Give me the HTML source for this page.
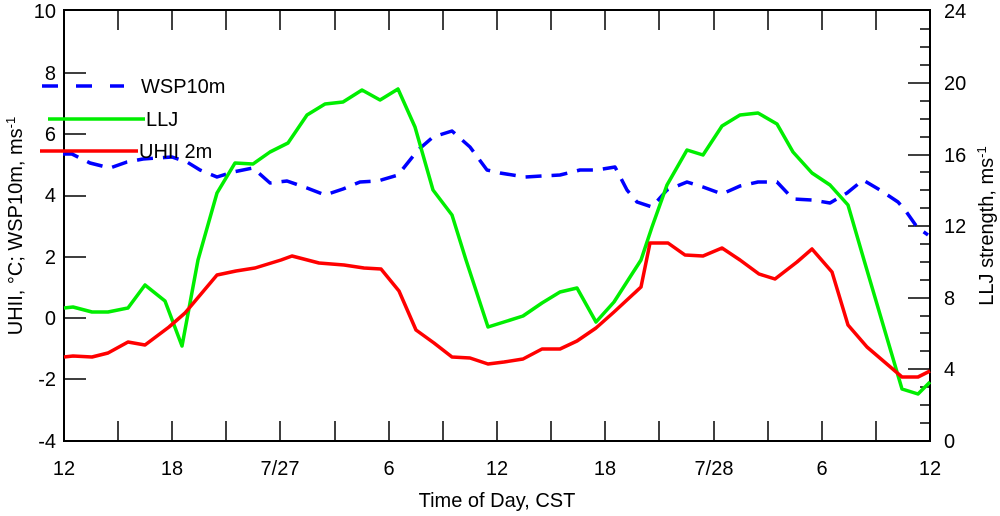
<!DOCTYPE html>
<html><head><meta charset="utf-8"><style>body{margin:0;background:#fff}svg{display:block}text{font-family:"Liberation Sans",sans-serif;font-size:20px;fill:#000}</style></head><body>
<svg width="1000" height="516" viewBox="0 0 1000 516">
<g stroke="#000" stroke-width="1.5" fill="none">
<rect x="64" y="10" width="866" height="431" stroke-width="2"/>
<path d="M118,441v-20M172,441v-20M226,441v-20M280,441v-20M335,441v-20M389,441v-20M443,441v-20M497,441v-20M551,441v-20M605,441v-20M659,441v-20M714,441v-20M768,441v-20M822,441v-20M876,441v-20
M118,10v20M172,10v20M226,10v20M280,10v20M335,10v20M389,10v20M443,10v20M497,10v20M551,10v20M605,10v20M659,10v20M714,10v20M768,10v20M822,10v20M876,10v20
M64,379h22M64,318h22M64,257h22M64,196h22M64,134h22M64,73h22"/>
<path d="M930,369h-22M930,298h-22M930,226h-22M930,155h-22M930,83h-22
M930,423h-10M930,405h-10M930,387h-10M930,351h-10M930,333h-10M930,316h-10M930,280h-10M930,262h-10M930,244h-10M930,208h-10M930,190h-10M930,172h-10M930,137h-10M930,119h-10M930,101h-10M930,65h-10M930,47h-10M930,29h-10"/>
</g>
<g text-anchor="end">
<text x="56" y="18">10</text><text x="56" y="80">8</text><text x="56" y="141">6</text><text x="56" y="202">4</text><text x="56" y="264">2</text><text x="56" y="325">0</text><text x="56" y="386">-2</text><text x="56" y="448">-4</text></g>
<g text-anchor="start">
<text x="944" y="18">24</text><text x="944" y="90">20</text><text x="944" y="162">16</text><text x="944" y="233">12</text><text x="944" y="305">8</text><text x="944" y="376">4</text><text x="944" y="448">0</text></g>
<g text-anchor="middle">
<text x="64" y="475">12</text><text x="172" y="475">18</text><text x="280" y="475">7/27</text><text x="389" y="475">6</text><text x="497" y="475">12</text><text x="605" y="475">18</text><text x="714" y="475">7/28</text><text x="822" y="475">6</text><text x="930" y="475">12</text>
<text x="497" y="507">Time of Day, CST</text>
<text transform="translate(22,226) rotate(-90)">UHII, °C; WSP10m, ms<tspan dy="-7" font-size="13">-1</tspan></text>
<text transform="translate(993,226) rotate(-90)">LLJ strength, ms<tspan dy="-7" font-size="13">-1</tspan></text>
</g>
<g fill="none" stroke-width="3.5" stroke-linejoin="round">
<polyline stroke="#0000ff" stroke-dasharray="16,10" points="63,154 72,154 90,163 110,168 127,162 143,159 172,157 187,162 200,170 217,177 233,172 253,168 270,183 287,181 307,188 325,195 343,189 360,182 378,181 398,175 418,150 433,137 452,131 470,147 487,170 500,173 525,177 560,175 580,170 597,170 615,167 627,190 637,202 652,207 667,190 687,182 703,187 722,194 740,186 758,182 777,182 793,199 812,200 830,203 847,193 863,180 880,190 898,202 905,210 917,227 928,235"/>
<polyline stroke="#00ee00" points="64,308 73,307 92,312 108,312 128,308 145,285 165,301 182,346 198,260 217,193 235,163 253,164 270,152 288,143 307,115 325,104 343,102 362,90 380,100 398,89 415,127 433,190 452,215 466,260 488,327 504,322 523,316 542,303 560,292 577,288 596,322 614,302 641,260 652,227 667,185 687,150 703,155 722,126 740,115 758,113 777,124 793,152 812,173 830,185 848,205 864,260 902,389 918,394 930,382"/>
<polyline stroke="#ff0000" points="64,357 73,356 92,357 108,353 128,342 145,345 169,327 185,313 217,275 236,271 255,268 281,260 292,256 319,263 344,265 364,268 381,269 399,291 416,330 434,343 452,357 470,358 488,364 504,362 523,359 542,349 560,349 577,341 596,328 614,312 641,287 650,243 668,243 685,255 703,256 722,248 740,260 759,274 775,279 797,262 812,249 832,272 848,325 867,347 902,377 918,377 930,371"/>
<line x1="42" y1="86" x2="124" y2="86" stroke="#0000ff" stroke-dasharray="16,18"/>
<line x1="48" y1="119" x2="145" y2="119" stroke="#00ee00"/>
<line x1="40" y1="151" x2="138" y2="151" stroke="#ff0000"/>
</g>
<text x="141" y="93" font-size="19">WSP10m</text>
<text x="146" y="126" font-size="19">LLJ</text>
<text x="139" y="158" font-size="19">UHII 2m</text>
</svg>
</body></html>
